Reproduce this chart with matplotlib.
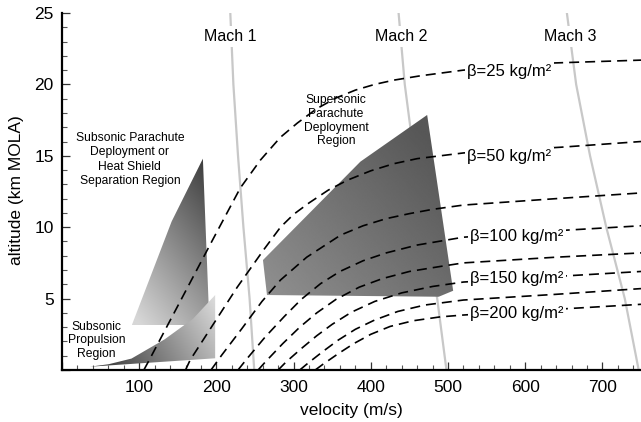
import numpy as np
import matplotlib
matplotlib.use('Agg')
import matplotlib.pyplot as plt
from matplotlib.patches import Polygon
from matplotlib.ticker import MultipleLocator, FuncFormatter

plt.rcParams['font.family'] = ['Liberation Sans', 'DejaVu Sans']

# speed of sound vs altitude (m/s), used for the Mach lines
sound_alt = [0, 5, 10, 15, 20, 25]
sound_speed = [249, 243, 235, 228, 222, 218]
mach_numbers = [1, 2, 3]

# constant ballistic-coefficient trajectories: velocity (m/s) vs altitude (km)
v_b25 = [106, 114, 195, 231, 257, 283, 305, 330, 355, 380, 405, 430, 464, 520, 637, 750]
h_b25 = [0, 0.8, 9.1, 12.75, 14.7, 16.3, 17.3, 18.3, 19.05, 19.6, 20.0, 20.3, 20.6, 21.0, 21.5, 21.7]
v_b50 = [160, 166, 227, 261, 283, 300, 320, 345, 370, 400, 430, 460, 520, 646, 750]
h_b50 = [0, 0.7, 5.8, 8.4, 10.0, 10.9, 11.7, 12.6, 13.3, 13.95, 14.45, 14.8, 15.2, 15.6, 16.0]
v_b75 = [193, 207, 233, 259, 283, 317, 361, 390, 420, 450, 480, 520, 640, 750]
h_b75 = [0, 1.05, 2.9, 4.8, 6.3, 7.9, 9.45, 10.1, 10.6, 10.95, 11.25, 11.55, 12.0, 12.4]
v_b100 = [228, 239, 263, 288, 310, 335, 360, 390, 420, 460, 520, 640, 750]
h_b100 = [0, 0.75, 2.3, 3.75, 4.95, 6.05, 6.9, 7.65, 8.2, 8.75, 9.3, 9.75, 10.1]
v_b125 = [254, 264, 286, 308, 330, 355, 385, 415, 450, 490, 520, 640, 750]
h_b125 = [0, 0.6, 1.85, 3.0, 4.0, 4.95, 5.8, 6.4, 6.9, 7.25, 7.5, 7.9, 8.2]
v_b150 = [280, 290, 310, 330, 350, 375, 405, 440, 480, 520, 640, 750]
h_b150 = [0, 0.55, 1.5, 2.4, 3.2, 4.05, 4.8, 5.4, 5.85, 6.16, 6.55, 6.9]
v_b175 = [308, 318, 338, 358, 380, 405, 435, 470, 520, 640, 750]
h_b175 = [0, 0.45, 1.3, 2.1, 2.85, 3.5, 4.1, 4.55, 4.9, 5.3, 5.7]
v_b200 = [328, 338, 358, 378, 400, 425, 455, 490, 520, 640, 750]
h_b200 = [0, 0.4, 1.15, 1.85, 2.5, 3.05, 3.45, 3.72, 3.85, 4.25, 4.6]

beta_labels = ['β=25 kg/m²', 'β=50 kg/m²', 'β=100 kg/m²', 'β=150 kg/m²', 'β=200 kg/m²']
beta_label_v = [525, 525, 529, 529, 529]
beta_label_h = [20.9, 14.94, 9.38, 6.42, 3.97]

# deployment / propulsion regions (velocity, altitude vertices)
sub_chute_v = [182.5, 142, 90.5, 191]
sub_chute_h = [14.8, 10.4, 3.15, 3.15]
prop_v = [36, 198.4, 198.4, 170, 133, 90, 60]
prop_h = [0.23, 0.82, 5.25, 3.6, 2.15, 0.8, 0.4]
super_v = [473, 386.5, 260.3, 265.5, 488, 506.7]
super_h = [17.86, 14.59, 7.70, 5.25, 5.13, 5.55]


def gradient_fill(ax, xs, ys, p0, p1, c0, c1, z):
    verts = np.column_stack([xs, ys])
    patch = Polygon(verts, closed=True, facecolor='none', edgecolor='none')
    ax.add_patch(patch)
    x0, x1 = min(xs), max(xs)
    y0, y1 = min(ys), max(ys)
    gx, gy = np.meshgrid(np.linspace(x0, x1, 300), np.linspace(y0, y1, 300))
    pts = ax.transData.transform(np.column_stack([gx.ravel(), gy.ravel()]))
    a = ax.transData.transform(p0)
    b = ax.transData.transform(p1)
    d = b - a
    t = np.clip(((pts - a) @ d) / (d @ d), 0, 1).reshape(gx.shape)
    val = c0 + (c1 - c0) * t
    im = ax.imshow(val, extent=(x0, x1, y0, y1), origin='lower', cmap='gray',
                   vmin=0, vmax=1, aspect='auto', interpolation='bilinear', zorder=z)
    im.set_clip_path(patch)


fig = plt.figure(figsize=(6.41, 4.22), dpi=100)
ax = fig.add_axes([62 / 641, 52 / 422, 579 / 641, 357 / 422])
ax.set_xlim(0, 750)
ax.set_ylim(0, 25)

# Mach lines
for m in mach_numbers:
    ax.plot([m * a for a in sound_speed], sound_alt, color='#c8c8c8', lw=1.6, zorder=1)
mach_label_v = [218, 440, 659]
for m, v in zip(mach_numbers, mach_label_v):
    ax.text(v, 23.35, f'Mach {m}', fontsize=11.5, ha='center', va='center', zorder=4,
            bbox=dict(boxstyle='square,pad=0.2', facecolor='white', edgecolor='none'))

# shaded regions
gradient_fill(ax, sub_chute_v, sub_chute_h, (182.5, 14.8), (28.5, 8.47), 0.24, 0.84, 2)
gradient_fill(ax, prop_v, prop_h, (50, 0.2), (198, 5.0), 0.22, 0.86, 2)
gradient_fill(ax, super_v, super_h, (480, 16), (265, 5.5), 0.34, 0.56, 2)

# beta curves
curves = [(v_b25, h_b25), (v_b50, h_b50), (v_b75, h_b75), (v_b100, h_b100),
          (v_b125, h_b125), (v_b150, h_b150), (v_b175, h_b175), (v_b200, h_b200)]
for v, h in curves:
    ax.plot(v, h, color='black', lw=1.2, dashes=(6, 3.6), zorder=3)

for lab, v, h in zip(beta_labels, beta_label_v, beta_label_h):
    ax.text(v, h, lab, fontsize=12, ha='left', va='center', zorder=4,
            bbox=dict(boxstyle='square,pad=0.15', facecolor='white', edgecolor='none'))

# region annotations
ax.text(88, 14.74, 'Subsonic Parachute\nDeployment or\nHeat Shield\nSeparation Region',
        fontsize=8.7, ha='center', va='center', linespacing=1.25, zorder=4)
ax.text(355, 17.46, 'Supersonic\nParachute\nDeployment\nRegion',
        fontsize=8.7, ha='center', va='center', linespacing=1.2, zorder=4)
ax.text(45, 2.07, 'Subsonic\nPropulsion\nRegion',
        fontsize=8.7, ha='center', va='center', linespacing=1.2, zorder=4)

# axes styling
for side in ['top', 'right']:
    ax.spines[side].set_visible(False)
for side in ['left', 'bottom']:
    ax.spines[side].set_linewidth(1.6)
    ax.spines[side].set_zorder(5)

ax.xaxis.set_major_locator(MultipleLocator(100))
ax.xaxis.set_minor_locator(MultipleLocator(20))
ax.yaxis.set_major_locator(MultipleLocator(5))
ax.yaxis.set_minor_locator(MultipleLocator(1))
hide_zero = FuncFormatter(lambda val, pos: '' if val == 0 else f'{val:g}')
ax.xaxis.set_major_formatter(hide_zero)
ax.yaxis.set_major_formatter(hide_zero)
ax.tick_params(which='major', direction='in', length=5.5, width=0.9, color='#333333',
               labelsize=12.5)
ax.tick_params(which='minor', direction='in', length=3.8, width=0.8, color='#555555')
ax.tick_params(axis='x', which='major', pad=7)
ax.tick_params(axis='y', which='major', pad=6)

fig.text(351.5 / 641, 1 - 411 / 422, 'velocity (m/s)', fontsize=12.5, ha='center', va='center')
fig.text(17 / 641, 1 - 190 / 422, 'altitude (km MOLA)', fontsize=12.5, ha='center',
         va='center', rotation=90)

ax.set_xlim(0, 750)
ax.set_ylim(0, 25)
fig.savefig('out.png', dpi=100)
